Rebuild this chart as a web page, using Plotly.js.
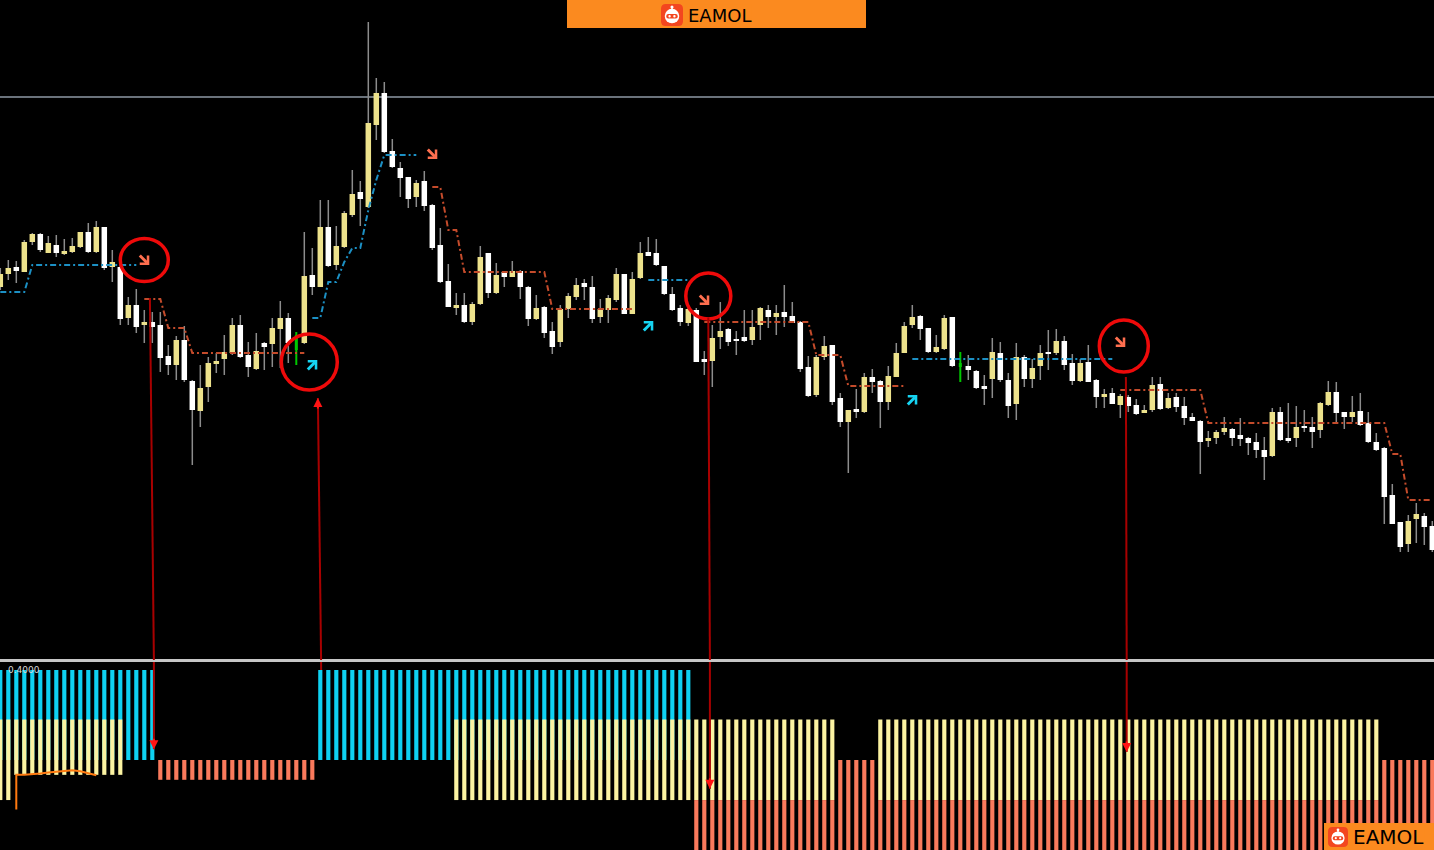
<!DOCTYPE html>
<html>
<head>
<meta charset="utf-8">
<script src="https://cdn.plot.ly/plotly-3.0.1.min.js"></script>
<style>
html,body{margin:0;padding:0;background:#000;overflow:hidden}
#chart{width:1434px;height:850px}
</style>
</head>
<body>
<div id="chart"></div>
<script>
// ---------------- DATA ----------------
const openP = [373,386,393,388,418,426,407,415,406,408, 413,428,408,433,393,393,342,355,335,338,
 335,304,295,320,279,249,273,296,301,307, 335,305,291,317,316,331,342,310,317,385,
 373,433,395,413,445,468,453,535,567,509, 492,483,463,479,455,415,379,352,355,338,
 356,407,367,388,383,389,373,341,353,329, 318,351,363,377,373,343,350,360,386,346,
 382,408,407,394,366,352,337,350,301,299, 323,331,321,323,320,335,350,343,348,344,
 338,293,265,303,315,262,238,251,248,283, 279,258,283,307,335,344,332,308,311,343,
 293,294,289,274,281,307,280,256,303,281, 294,308,307,319,297,279,298,280,263,267,
 255,263,255,247,250,276,252,263,254,243, 239,219,222,228,231,225,222,218,210,204,
 248,222,222,234,233,230,255,268,248,243, 249,237,218,212,165,138,116,141,144,134];
const highP = [392,400,399,420,427,427,424,425,421,422, 428,437,439,433,410,395,363,371,350,348,
 348,315,324,334,280,295,303,307,325,342, 345,318,327,318,342,359,347,328,428,412,
 460,460,434,449,490,479,638,582,578,521, 498,483,480,489,456,432,396,367,367,358,
 414,407,397,388,399,390,374,365,354,338, 355,367,382,381,384,361,365,392,386,388,
 418,423,421,394,373,355,355,352,309,335, 358,332,329,350,350,353,355,355,375,358,
 339,304,305,324,315,267,250,271,287,291, 280,294,317,338,355,345,332,325,345,343,
 308,305,290,285,322,318,287,317,305,301, 315,330,331,324,306,301,315,281,271,272,
 266,265,261,255,283,283,267,267,263,247, 240,229,230,243,232,242,223,227,223,252,
 253,257,254,250,243,258,279,278,248,264, 267,248,227,213,176,138,145,157,147,139];
const lowP = [370,380,377,388,415,408,407,403,405,407, 412,407,407,390,378,335,335,327,317,317,
 288,285,280,278,195,233,258,287,285,305, 302,283,290,290,293,292,297,295,316,365,
 373,393,390,412,443,434,452,520,507,492, 463,452,453,449,410,377,353,345,337,335,
 355,362,366,373,383,361,334,340,322,306, 313,342,360,360,337,337,337,358,346,346,
 381,404,394,365,349,334,334,298,285,273, 311,314,305,318,315,320,332,325,333,337,
 288,263,263,300,255,233,187,242,247,267, 232,250,283,307,332,320,307,307,310,293,
 278,280,271,255,262,278,242,240,273,272, 280,290,305,290,275,278,278,252,252,256,
 242,248,245,247,248,250,251,248,235,239, 186,213,216,225,214,214,205,202,180,203,
 219,217,213,228,212,222,254,237,231,238, 234,217,209,136,136,108,108,117,115,108];
const closeP = [386,392,389,418,426,410,417,407,409,414, 428,408,433,392,398,341,355,333,338,333,
 302,295,320,280,250,272,297,299,308,335, 303,293,309,313,332,342,317,325,384,373,
 433,394,414,447,466,461,537,567,508,493, 482,461,477,454,412,378,353,355,338,356,
 403,367,385,383,389,373,341,352,327,313, 351,364,375,373,341,351,362,386,346,381,
 407,404,395,366,350,338,351,298,298,322, 329,318,319,319,333,352,343,347,343,337,
 291,264,303,314,258,238,250,248,283,278, 258,284,307,334,343,331,308,313,342,294,
 297,290,272,271,308,280,254,303,281,292, 307,306,319,295,279,297,278,263,266,256,
 264,254,246,250,275,251,262,253,242,239, 218,222,228,232,222,221,217,210,203,248,
 220,219,233,232,228,257,268,247,243,248, 235,218,210,163,136,113,139,146,133,110];
const signalBars = [37, 120];

// trailing support (blue) / resistance (red) levels: segment start index + per-bar levels
const supportStart = [0, 39, 81, 114];
const supportLevels = [
 [368,368,368,368,395,395,395,395,395,395,395,395,395,395,395,395,395,395],
 [342,342,378,378,398,412,412,450,480,505,505,505,505,505],
 [380,380,380,380,380,380],
 [301,301,301,301,301,301,301,301,301,301,301,301,301,301,301,301,301,301,301,301,301,301,301,301,301,301]
];
const resistStart = [18, 54, 88, 140];
const resistLevels = [
 [361,361,361,332,332,332,307,307,307,307,307,307,307,307,307,307,307,307,307,307,307],
 [473,473,430,430,388,388,388,388,388,388,388,388,388,388,388,351,351,351,351,351,351,351,351,351,351,351],
 [338,338,338,338,338,338,338,338,338,338,338,338,338,338,305,305,305,305,274,274,274,274,274,274,274,274],
 [270,270,270,270,270,270,270,270,270,270,270,237,237,237,237,237,237,237,237,237,237,237,237,237,237,237,237,237,237,237,237,237,237,237,206,206,160,160,160,160]
];

// signal arrows (index, price at arrow head)
const sellIdx = [18, 54, 88, 140];
const sellHead = [395, 501, 355, 313];
const buyIdx = [39, 81, 114];
const buyHead = [300, 339, 265];

// highlighted signals (red rings)
const ringIdx = [18, 39, 88, 140];
const ringPrice = [400, 298, 364, 314];
const ringRx = [24, 28, 22.5, 24.5];
const ringRy = [21.5, 28, 23, 26];
const ringDx = [0, -3, 4, 3.5];

// connectors from signal to indicator panel
const connFromIdx = [18.7, 39.7, 88.5, 140.7];
const connFromPrice = [362, 262, 342, 283];
const connToIdx = [19.2, 40.1, 88.7, 140.8];
const connToLevel = [0.224, 0.4, 0.136, 0.218];
const connDir = ['down', 'up', 'down', 'down'];

const lastPriceLevel = 563;

// indicator panel spans
const blueSpans = [{start:0,end:19,top:0.4,bottom:0.2},{start:40,end:86,top:0.4,bottom:0.2}];
const yellowSpans = [{start:0,end:1,top:0.29,bottom:0.111},{start:2,end:15,top:0.29,bottom:0.167},
  {start:57,end:104,top:0.29,bottom:0.111},{start:110,end:172,top:0.29,bottom:0.111}];
const salmonSpans = [{start:20,end:39,top:0.2,bottom:0.156},{start:87,end:104,top:0.111,bottom:0},
  {start:105,end:109,top:0.2,bottom:0},{start:110,end:172,top:0.111,bottom:0},{start:173,end:179,top:0.2,bottom:0}];
const indLineX = [2,2,3,4,5,6,7,8,9,10,11,12];
const indLineY = [0.09,0.167,0.167,0.168,0.17,0.172,0.174,0.176,0.177,0.175,0.17,0.166];
const indTopLabel = '0.4000';
const brandText = 'EAMOL';

// ---------------- BUILD ----------------
const N = openP.length;
const wickX=[], wickY=[], upX=[], upY=[], dnX=[], dnY=[], sgX=[], sgY=[], sgBX=[], sgBY=[];
for (let i=0;i<N;i++){
  if (signalBars.includes(i)) {
    sgX.push(i,i,null); sgY.push(lowP[i],highP[i],null);
    sgBX.push(i,i,null); sgBY.push(openP[i],closeP[i],null);
    continue;
  }
  wickX.push(i,i,null); wickY.push(lowP[i],highP[i],null);
  if (closeP[i] >= openP[i]) { upX.push(i,i,null); upY.push(openP[i],closeP[i],null); }
  else { dnX.push(i,i,null); dnY.push(openP[i],closeP[i],null); }
}
function seg(starts, levels){
  const x=[],y=[];
  starts.forEach((s,k)=>{ levels[k].forEach((v,j)=>{x.push(s+j);y.push(v);}); x.push(null); y.push(null); });
  return {x,y};
}
const sup = seg(supportStart, supportLevels);
const res = seg(resistStart, resistLevels);
function spanBars(spans){
  const x=[],base=[],h=[];
  spans.forEach(s=>{ for(let i=s.start;i<=s.end;i++){ x.push(i); base.push(s.bottom); h.push(s.top-s.bottom); } });
  return {x,base,h};
}
const hb = spanBars(blueSpans), hy = spanBars(yellowSpans), hs = spanBars(salmonSpans);

const barT = (d,color)=>({type:'bar', x:d.x, y:d.h, base:d.base, xaxis:'x', yaxis:'y2', width:0.52,
  marker:{color:color, line:{width:0}}, hoverinfo:'skip'});

const traces = [
  barT(hb,'#0fd2f2'),
  barT(hy,'#fbf3a2'),
  barT(hs,'#fa7a5c'),
  {type:'scatter', mode:'lines', x:indLineX, y:indLineY, xaxis:'x', yaxis:'y2',
   line:{color:'#ff7a10', width:2}, hoverinfo:'skip'},
  {type:'scatter', mode:'lines', x:wickX, y:wickY, line:{color:'#8c8c8c', width:1.5}, hoverinfo:'skip', connectgaps:false},
  {type:'scatter', mode:'lines', x:upX, y:upY, line:{color:'#ede28c', width:5.5}, hoverinfo:'skip', connectgaps:false},
  {type:'scatter', mode:'lines', x:dnX, y:dnY, line:{color:'#ffffff', width:5.5}, hoverinfo:'skip', connectgaps:false},
  {type:'scatter', mode:'lines', x:sgX, y:sgY, line:{color:'#00c800', width:2}, hoverinfo:'skip', connectgaps:false},
  {type:'scatter', mode:'lines', x:sgBX, y:sgBY, line:{color:'#00c800', width:3}, hoverinfo:'skip', connectgaps:false},
  {type:'scatter', mode:'lines', x:sup.x, y:sup.y, line:{color:'#1c90c4', width:2, dash:'6px,3px,2px,3px'}, hoverinfo:'skip', connectgaps:false},
  {type:'scatter', mode:'lines', x:res.x, y:res.y, line:{color:'#c44b2b', width:2, dash:'6px,3px,2px,3px'}, hoverinfo:'skip', connectgaps:false}
];

// ---------------- LAYOUT ----------------
const W=1434, H=850;
const PX = x=>x/W, PY = y=>1-y/H;
const Y2MAX = 188/450;
const shapes = [];
const annotations = [];

shapes.push({type:'line', xref:'paper', x0:0, x1:1, yref:'y', y0:lastPriceLevel, y1:lastPriceLevel,
  line:{color:'#8e99a4', width:1.5}, layer:'below'});
shapes.push({type:'line', xref:'paper', yref:'paper', x0:0, x1:1, y0:PY(660.5), y1:PY(660.5),
  line:{color:'#c6c6c6', width:3}});

ringIdx.forEach((s,k)=>{
  shapes.push({type:'circle', xref:'x', yref:'y', xsizemode:'pixel', ysizemode:'pixel',
    xanchor:s, yanchor:ringPrice[k], x0:ringDx[k]-ringRx[k], x1:ringDx[k]+ringRx[k], y0:-ringRy[k], y1:ringRy[k],
    line:{color:'#ee0a0a', width:3.5}});
});

connFromIdx.forEach((fx,k)=>{
  shapes.push({type:'line', xref:'x', yref:'y', x0:fx, y0:connFromPrice[k], x1:connToIdx[k], y1:0,
    line:{color:'#a80000', width:2}});
  shapes.push({type:'line', xref:'x', yref:'y2', x0:connToIdx[k], y0:Y2MAX, x1:connToIdx[k], y1:connToLevel[k],
    line:{color:'#a80000', width:2}});
  if (connDir[k]==='down') {
    annotations.push({x:connToIdx[k], y:connToLevel[k], xref:'x', yref:'y2', text:'', showarrow:true,
      arrowhead:2, arrowsize:0.9, arrowwidth:2, arrowcolor:'#ff1414', ax:0, ay:-12});
  } else {
    annotations.push({x:fx, y:connFromPrice[k], xref:'x', yref:'y', text:'', showarrow:true,
      arrowhead:2, arrowsize:0.9, arrowwidth:2, arrowcolor:'#ff1414', ax:0, ay:12});
  }
});

sellIdx.forEach((s,k)=>annotations.push({x:s, y:sellHead[k], xref:'x', yref:'y', text:'', showarrow:true,
  arrowhead:4, arrowsize:0.75, arrowwidth:3, arrowcolor:'#ff6f4f', ax:-11, ay:-11, xshift:5}));
buyIdx.forEach((s,k)=>annotations.push({x:s, y:buyHead[k], xref:'x', yref:'y', text:'', showarrow:true,
  arrowhead:4, arrowsize:0.75, arrowwidth:3, arrowcolor:'#16d4f2', ax:-11, ay:11, xshift:5}));

annotations.push({x:PX(6), y:0.4, xref:'paper', yref:'y2', text:indTopLabel, showarrow:false,
  xanchor:'left', yanchor:'middle', font:{family:'DejaVu Sans', size:9, color:'#d8d8d8'}});

// EAMOL banners
function roundRectPath(x0,y0,x1,y1,r){
  return `M${PX(x0+r)},${PY(y0)} L${PX(x1-r)},${PY(y0)} Q${PX(x1)},${PY(y0)} ${PX(x1)},${PY(y0+r)} `+
    `L${PX(x1)},${PY(y1-r)} Q${PX(x1)},${PY(y1)} ${PX(x1-r)},${PY(y1)} L${PX(x0+r)},${PY(y1)} `+
    `Q${PX(x0)},${PY(y1)} ${PX(x0)},${PY(y1-r)} L${PX(x0)},${PY(y0+r)} Q${PX(x0)},${PY(y0)} ${PX(x0+r)},${PY(y0)} Z`;
}
function circ(cx,cy,r,color){
  shapes.push({type:'circle', xref:'paper', yref:'paper', x0:PX(cx-r), x1:PX(cx+r), y0:PY(cy+r), y1:PY(cy-r),
    fillcolor:color, line:{width:0}});
}
function logo(cx,cy,s){
  shapes.push({type:'path', xref:'paper', yref:'paper', path:roundRectPath(cx-s/2,cy-s/2,cx+s/2,cy+s/2,s*0.22),
    fillcolor:'#f3461f', line:{width:0}});
  circ(cx, cy-s*0.36, s*0.07, '#ffffff');
  shapes.push({type:'line', xref:'paper', yref:'paper', x0:PX(cx), x1:PX(cx), y0:PY(cy-s*0.36), y1:PY(cy-s*0.2),
    line:{color:'#ffffff', width:1.5}});
  circ(cx, cy+s*0.05, s*0.33, '#ffffff');
  shapes.push({type:'path', xref:'paper', yref:'paper',
    path:roundRectPath(cx-s*0.26, cy-s*0.04, cx+s*0.26, cy+s*0.16, s*0.09), fillcolor:'#f3461f', line:{width:0}});
  circ(cx-s*0.11, cy+s*0.06, s*0.055, '#ffffff');
  circ(cx+s*0.11, cy+s*0.06, s*0.055, '#ffffff');
}
shapes.push({type:'rect', xref:'paper', yref:'paper', x0:PX(567), x1:PX(866), y0:PY(28), y1:PY(0),
  fillcolor:'#fb8a1f', line:{width:0}});
logo(672, 15, 22);
shapes.push({type:'rect', xref:'paper', yref:'paper', x0:PX(1324), x1:PX(1434), y0:PY(850), y1:PY(823),
  fillcolor:'#fb8a1f', line:{width:0}});
logo(1338, 837, 20);

annotations.push({x:PX(687), y:PY(15.5), xref:'paper', yref:'paper', text:brandText, showarrow:false,
  xanchor:'left', yanchor:'middle', bgcolor:'#fb8a1f', borderpad:0,
  font:{family:'DejaVu Sans', size:18, color:'#000000'}});
annotations.push({x:PX(1352), y:PY(836.5), xref:'paper', yref:'paper', text:brandText, showarrow:false,
  xanchor:'left', yanchor:'middle', bgcolor:'#fb8a1f', borderpad:0,
  font:{family:'DejaVu Sans', size:20, color:'#000000'}});

const layout = {
  width:W, height:H,
  margin:{l:0,r:0,t:0,b:0,pad:0},
  paper_bgcolor:'#000000', plot_bgcolor:'#000000',
  showlegend:false, barmode:'overlay',
  xaxis:{range:[-0.0375,179.2125], visible:false, showgrid:false, zeroline:false, fixedrange:true},
  yaxis:{domain:[190/850,1], range:[0,660], visible:false, showgrid:false, zeroline:false},
  yaxis2:{domain:[0,188/850], range:[0,Y2MAX], visible:false, showgrid:false, zeroline:false, anchor:'x'},
  shapes:shapes, annotations:annotations
};
Plotly.newPlot('chart', traces, layout, {displayModeBar:false, staticPlot:true});
</script>
</body>
</html>
